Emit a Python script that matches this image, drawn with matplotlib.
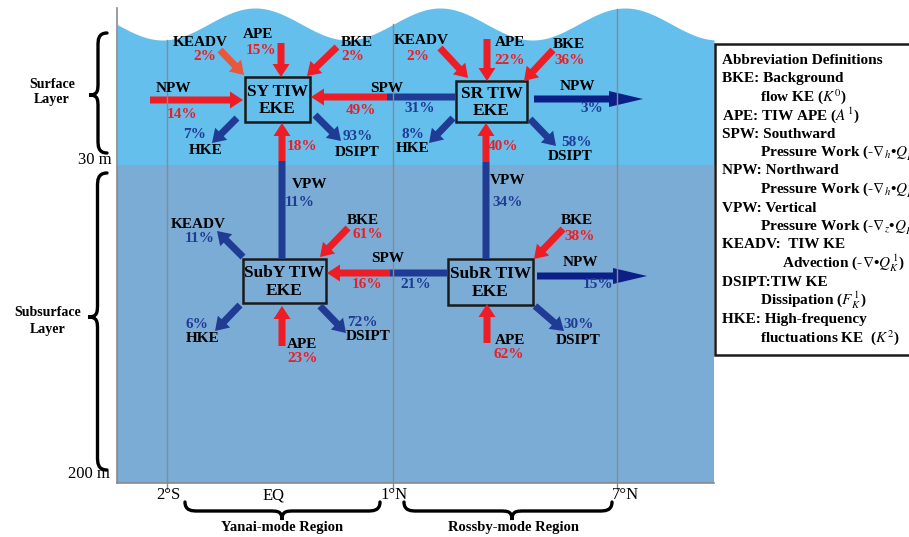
import numpy as np
import matplotlib
matplotlib.use('Agg')
from matplotlib import pyplot as plt
from matplotlib.patches import FancyArrow, Rectangle, PathPatch
from matplotlib.path import Path

plt.rcParams['font.family'] = ['Liberation Serif', 'DejaVu Serif']
plt.rcParams['mathtext.fontset'] = 'stix'

# energy budget terms (percent of each box's total source / sink)
sy_terms = ["KEADV", "APE", "BKE", "NPW", "HKE", "DSIPT"]
sy_pct = [2, 15, 2, 14, 7, 93]
sr_terms = ["KEADV", "APE", "BKE", "NPW", "HKE", "DSIPT"]
sr_pct = [2, 22, 36, 3, 8, 58]
suby_terms = ["KEADV", "BKE", "HKE", "APE", "DSIPT"]
suby_pct = [11, 61, 6, 23, 72]
subr_terms = ["BKE", "NPW", "APE", "DSIPT"]
subr_pct = [38, 15, 62, 30]

# pressure work linking two boxes: gain of the receiver, loss of the donor
link_terms = ["SPW", "SPW", "VPW", "VPW"]
link_gain = [49, 16, 18, 40]
link_loss = [31, 21, 11, 34]

box_names = ["SY TIW\nEKE", "SR TIW\nEKE", "SubY TIW\nEKE", "SubR TIW\nEKE"]
lat_labels = ["2°S", "EQ", "1°N", "7°N"]
region_names = ["Yanai-mode Region", "Rossby-mode Region"]
legend_lines = [
    ("Abbreviation Definitions", 0),
    ("BKE: Background", 0),
    (r"flow KE ($K^0$)", 1),
    (r"APE: TIW APE ($A^1$)", 0),
    ("SPW: Southward", 0),
    (r"Pressure Work (-$\nabla_h$•$Q_P^{\,1}$)", 1),
    ("NPW: Northward", 0),
    (r"Pressure Work (-$\nabla_h$•$Q_P^{\,1}$)", 1),
    ("VPW: Vertical", 0),
    (r"Pressure Work (-$\nabla_z$•$Q_P^{\,1}$)", 1),
    ("KEADV:  TIW KE", 0),
    (r"Advection (-$\nabla$•$Q_K^{\,1}$)", 2),
    ("DSIPT:TIW KE", 0),
    (r"Dissipation ($F_K^{\,1}$)", 1),
    ("HKE: High-frequency", 0),
    (r"fluctuations KE  ($K^2$)", 1),
]

RED = '#ee1c24'
ORANGE = '#e8583c'
BLUE = '#1f3b94'
NAVY = '#0c1f86'
SURF = '#64bfed'
SUBS = '#7bacd6'
GRID = '#8a8a8a'

fig = plt.figure(figsize=(9.09, 5.37), dpi=100)
ax = fig.add_axes([0, 0, 1, 1])
ax.set_xlim(0, 909)
ax.set_ylim(537, 0)
ax.axis('off')

# ocean
xw = np.linspace(117, 714, 500)
ytop = 24 - 16 * np.cos(2 * np.pi * (xw - 255) / 185)
ax.fill_between(xw, ytop, 165, color=SURF, lw=0)
ax.add_patch(Rectangle((117, 165), 597, 318, color=SUBS, lw=0))
ax.plot([117, 117], [8, 483], color=GRID, lw=1.2)
ax.plot([117, 714], [483, 483], color=GRID, lw=1.2)
for xl in [167, 393, 617]:
    y0 = 24 - 16 * np.cos(2 * np.pi * (xl - 255) / 185)
    ax.plot([xl, xl], [y0, 489], color=GRID, lw=1.0)


def bold(x, y, s, size=11, color='k', ha='center', **kw):
    ax.text(x, y, s, fontsize=size, color=color, ha=ha, va='center',
            fontweight='bold', **kw)


def arrow(p0, p1, color, w=7, hw=17, hl=13):
    ax.add_patch(FancyArrow(p0[0], p0[1], p1[0] - p0[0], p1[1] - p0[1],
                            width=w, head_width=hw, head_length=hl,
                            length_includes_head=True, color=color, lw=0))


def shaft(p0, p1, color, w=7):
    ax.add_patch(FancyArrow(p0[0], p0[1], p1[0] - p0[0], p1[1] - p0[1],
                            width=w, head_width=w, head_length=0.01,
                            length_includes_head=True, color=color, lw=0))


def brace(u0, u1, utip, vback, vtip, vertical, lw=2.4):
    d = (vtip - vback) / 2
    vm = vback + d
    s = abs(d) * 1.4
    pts = [(u0, vback), (u0, vm), (u0 + s * 0.6, vm), (u0 + s, vm),
           (utip - s, vm), (utip - s * 0.35, vm), (utip, vm), (utip, vtip),
           (utip, vm), (utip + s * 0.35, vm), (utip + s, vm),
           (u1 - s, vm), (u1 - s * 0.6, vm), (u1, vm), (u1, vback)]
    codes = [Path.MOVETO, Path.CURVE4, Path.CURVE4, Path.CURVE4,
             Path.LINETO, Path.CURVE4, Path.CURVE4, Path.CURVE4,
             Path.CURVE4, Path.CURVE4, Path.CURVE4,
             Path.LINETO, Path.CURVE4, Path.CURVE4, Path.CURVE4]
    if vertical:
        pts = [(v, u) for u, v in pts]
    ax.add_patch(PathPatch(Path(pts, codes), fill=False, lw=lw,
                           edgecolor='k', capstyle='round'))


def box(x0, y0, x1, y1, name):
    ax.add_patch(Rectangle((x0, y0), x1 - x0, y1 - y0, fill=False,
                           edgecolor='#1a1a1a', lw=1.8))
    bold((x0 + x1) / 2, (y0 + y1) / 2 + 1, name, size=12.5, linespacing=1.1)


# boxes
box(245, 77, 310, 122, box_names[0])
box(456, 81, 527, 122, box_names[1])
box(243, 259, 326, 303, box_names[2])
box(448, 259, 533, 305, box_names[3])

# layout of each term: arrow start, arrow end, label xy, percent xy, colour
sy_layout = {
    "KEADV": ((220, 50), (244, 75), (200, 42), (205, 56), ORANGE),
    "APE": ((281, 43), (281, 77), (258, 35), (261, 50), RED),
    "BKE": ((337, 47), (307, 76), (357, 42), (353, 56), RED),
    "NPW": ((150, 100), (243, 100), (173, 88), (182, 114), RED),
    "HKE": ((237, 118), (212, 143), (206, 150), (195, 135), BLUE),
    "DSIPT": ((315, 115), (341, 141), (357, 152), (358, 137), BLUE),
}
sr_layout = {
    "KEADV": ((440, 48), (468, 78), (421, 40), (418, 56), RED),
    "APE": ((487, 39), (487, 81), (510, 43), (510, 61), RED),
    "BKE": ((553, 50), (524, 81), (569, 45), (570, 61), RED),
    "NPW": ((534, 99), (643, 99), (577, 86), (592, 109), NAVY),
    "HKE": ((453, 118), (429, 143), (413, 149), (413, 134), BLUE),
    "DSIPT": ((530, 119), (556, 146), (570, 156), (577, 142), BLUE),
}
suby_layout = {
    "KEADV": ((243, 257), (217, 231), (198, 224), (200, 238), BLUE),
    "BKE": ((348, 228), (320, 257), (363, 221), (368, 235), RED),
    "HKE": ((240, 305), (215, 331), (203, 338), (197, 324), BLUE),
    "APE": ((282, 346), (282, 306), (302, 344), (303, 358), RED),
    "DSIPT": ((320, 306), (346, 333), (368, 336), (362, 322), BLUE),
}
subr_layout = {
    "BKE": ((563, 229), (534, 259), (577, 221), (580, 237), RED),
    "NPW": ((537, 276), (647, 276), (580, 262), (598, 285), NAVY),
    "APE": ((487, 343), (487, 304), (510, 340), (509, 355), RED),
    "DSIPT": ((535, 306), (564, 331), (578, 340), (579, 324), BLUE),
}

for terms, pcts, layout in [(sy_terms, sy_pct, sy_layout),
                            (sr_terms, sr_pct, sr_layout),
                            (suby_terms, suby_pct, suby_layout),
                            (subr_terms, subr_pct, subr_layout)]:
    for term, pct in zip(terms, pcts):
        p0, p1, lab, pos, col = layout[term]
        if term == "NPW" and col == NAVY:
            arrow(p0, p1, col, w=7, hw=16, hl=34)
        else:
            arrow(p0, p1, col)
        bold(lab[0], lab[1], term, size=11)
        pcol = BLUE if col in (BLUE, NAVY) else RED
        bold(pos[0], pos[1], f"{pct}%", size=11, color=pcol)

# links: (blue start, split point, arrow tip, label, gain pct xy, loss pct xy)
link_layout = [
    ((456, 97), (387, 97), (311, 97), (387, 88), (361, 110), (420, 108)),
    ((448, 273), (390, 273), (327, 273), (388, 258), (367, 284), (416, 285)),
    ((282, 259), (282, 161), (282, 123), (310, 185), (302, 146), (300, 202)),
    ((486, 259), (486, 162), (486, 123), (508, 181), (503, 146), (508, 202)),
]
for term, gain, loss, lay in zip(link_terms, link_gain, link_loss, link_layout):
    p_start, p_mid, p_tip, lab, gpos, lpos = lay
    shaft(p_start, p_mid, BLUE)
    arrow(p_mid, p_tip, RED)
    bold(lab[0], lab[1], term, size=11)
    bold(gpos[0], gpos[1], f"{gain}%", size=11, color=RED)
    bold(lpos[0], lpos[1], f"{loss}%", size=11, color=BLUE)

# depth braces and labels
brace(33, 153, 95, 107, 89, vertical=True)
brace(173, 470, 317, 107, 88, vertical=True)
bold(52, 92, "Surface\nLayer", size=10, linespacing=1.3)
bold(48, 321, "Subsurface\nLayer", size=10, linespacing=1.3)
ax.text(112, 160, "30 m", fontsize=12, ha='right', va='center')
ax.text(110, 474, "200 m", fontsize=12, ha='right', va='center')

# latitude labels and region braces
for xl, s in zip([168, 274, 394, 625], lat_labels):
    ax.text(xl, 495, s, fontsize=12, ha='center', va='center')
brace(185, 380, 282, 502, 520, vertical=False)
brace(404, 612, 512, 502, 520, vertical=False)
bold(282, 528, region_names[0], size=10.5)
bold(513, 528, region_names[1], size=10.5)

# abbreviation box (runs off the right edge, as in the source figure)
ax.add_patch(Rectangle((715, 44), 220, 311, facecolor='white',
                       edgecolor='#1a1a1a', lw=1.8, clip_on=True))
indent = [722, 760, 782]
for i, (s, lev) in enumerate(legend_lines):
    ax.text(indent[lev], 60 + i * 18.5, s, fontsize=11, fontweight='bold',
            ha='left', va='center', clip_on=True)

fig.savefig('out.png', dpi=100)
